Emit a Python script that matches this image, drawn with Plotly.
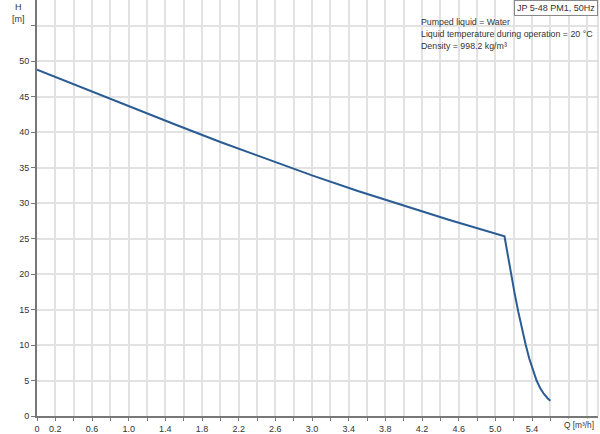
import plotly.graph_objects as go

# Pump curve data
q_values = [0, 0.5, 1.0, 1.5, 2.0, 2.5, 3.0, 3.5, 4.0, 4.5, 5.1,
            5.13, 5.17, 5.21, 5.25, 5.29, 5.33, 5.37, 5.41, 5.45, 5.49, 5.53, 5.57, 5.60]
h_values = [48.8, 46.2, 43.65, 41.1, 38.6, 36.2, 33.9, 31.7, 29.6, 27.6, 25.3,
            23.0, 20.0, 17.3, 14.7, 12.3, 10.1, 8.1, 6.4, 5.0, 3.9, 3.1, 2.5, 2.15]

x_tick_vals = [round(0.2 * i, 1) for i in range(0, 31)]
x_label_set = {0.0: "0", 0.2: "0.2"}
for k in range(14):
    v = round(0.2 + 0.4 * k, 1)
    if v <= 5.4:
        x_label_set[v] = f"{v:.1f}"
x_tick_text = [x_label_set.get(v, "") for v in x_tick_vals]

y_tick_vals = list(range(0, 60, 5))
y_tick_text = [str(v) if v <= 50 else "" for v in y_tick_vals]

title_box = "JP 5-48 PM1, 50Hz"
info_lines = ["Pumped liquid = Water",
              "Liquid temperature during operation = 20 °C",
              "Density = 998.2 kg/m³"]

font_family = "Liberation Sans, Arial, sans-serif"
text_color = "#333333"

fig = go.Figure()
fig.add_trace(go.Scatter(
    x=q_values, y=h_values, mode="lines",
    line=dict(color="#2a5b93", width=2),
    hoverinfo="skip", showlegend=False))

fig.update_layout(
    width=600, height=434,
    margin=dict(l=37, r=2, t=0, b=16),
    paper_bgcolor="white", plot_bgcolor="white",
    font=dict(family=font_family, size=9, color=text_color),
    xaxis=dict(range=[0, 6.12], tickmode="array", tickvals=x_tick_vals, ticktext=x_tick_text,
               showgrid=True, gridcolor="#e2e2e2", gridwidth=1.5,
               showline=True, linecolor="#777777", linewidth=2,
               ticks="outside", ticklen=3, tickcolor="#777777", tickwidth=1,
               zeroline=False, tickfont=dict(size=9, color=text_color), fixedrange=True),
    yaxis=dict(range=[0, 58.6], tickmode="array", tickvals=y_tick_vals, ticktext=y_tick_text,
               showgrid=True, gridcolor="#e2e2e2", gridwidth=1.5,
               showline=True, linecolor="#777777", linewidth=2,
               ticks="outside", ticklen=4, tickcolor="#777777", tickwidth=1,
               zeroline=False, tickfont=dict(size=9, color=text_color), fixedrange=True),
)

# right border
fig.add_shape(type="line", xref="paper", yref="paper", x0=1, x1=1, y0=0, y1=1,
              line=dict(color="#c8c8c8", width=1))

# axis titles
fig.add_annotation(text="H<br>[m]", xref="paper", yref="paper", x=-0.033, y=1.0,
                   xanchor="center", yanchor="top", showarrow=False, align="center",
                   font=dict(size=9, color=text_color))
fig.add_annotation(text="Q [m³/h]", xref="paper", yref="paper", x=(596 - 37) / 561, y=0,
                   xanchor="right", yanchor="top", yshift=-2, showarrow=False,
                   font=dict(size=8.3, color=text_color), bgcolor="white")

# info text
for i, line in enumerate(info_lines):
    fig.add_annotation(text=line, xref="paper", yref="paper", x=(419 - 37) / 561,
                       y=1 - (22 + 12 * i) / 418, xanchor="left", yanchor="middle",
                       showarrow=False, font=dict(size=8.8, color=text_color))

# title box
fig.add_annotation(text=title_box, xref="paper", yref="paper", x=1, y=1,
                   xanchor="right", yanchor="top", showarrow=False,
                   font=dict(size=9, color=text_color), bgcolor="white",
                   bordercolor="#888888", borderwidth=1, borderpad=2)

fig.write_html("out.html", config={"displayModeBar": False},
               post_script="document.body.style.margin='0';document.body.style.padding='0';")
